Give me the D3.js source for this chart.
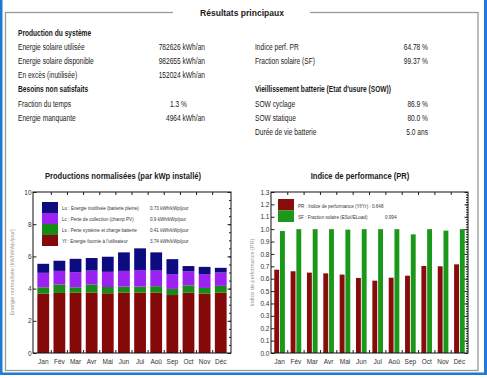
<!DOCTYPE html>
<html>
<head>
<meta charset="utf-8">
<script src="https://cdn.jsdelivr.net/npm/d3@7"></script>
<style>
  body { margin: 0; background: #fff; }
  svg { display: block; font-family: "Liberation Sans", Arial, sans-serif; }
</style>
</head>
<body>
<script>
// months and monthly values
var months = ["Jan", "Fév", "Mar", "Avr", "Mai", "Jun", "Jul", "Aoû", "Sep", "Oct", "Nov", "Déc"];
var yfValues = [3.69, 3.73, 3.75, 3.75, 3.71, 3.75, 3.75, 3.75, 3.60, 3.75, 3.69, 3.75];
var lsValues = [0.39, 0.52, 0.33, 0.50, 0.39, 0.37, 0.37, 0.40, 0.38, 0.45, 0.35, 0.42];
var lcValues = [0.90, 0.85, 0.94, 0.87, 0.94, 0.98, 1.03, 0.97, 0.92, 0.88, 0.86, 0.83];
var luValues = [0.56, 0.63, 0.83, 0.78, 0.94, 1.15, 1.35, 1.13, 0.93, 0.32, 0.45, 0.29];
var prValues = [0.673, 0.660, 0.649, 0.643, 0.633, 0.606, 0.584, 0.608, 0.624, 0.703, 0.700, 0.716];
var sfValues = [0.985, 1.0, 1.0, 1.0, 0.996, 1.0, 1.0, 1.0, 0.958, 1.0, 0.988, 1.0];

var prodTicks = [0, 2, 4, 6, 8, 10];
var perfTicks = d3.range(0, 14).map(function(i) { return i / 10; });

// text blocks
var leftRows = [
  {label: "Production du système", bold: true},
  {label: "Energie solaire utilisée", value: "782626 kWh/an"},
  {label: "Energie solaire disponible", value: "982655 kWh/an"},
  {label: "En excès (inutilisée)", value: "152024 kWh/an"},
  {label: "Besoins non satisfaits", bold: true},
  {label: "Fraction du temps", value: "1.3 %", short: true},
  {label: "Energie manquante", value: "4964 kWh/an"}
];
var rightRows = [
  null,
  {label: "Indice perf. PR", value: "64.78 %"},
  {label: "Fraction solaire (SF)", value: "99.37 %"},
  null,
  {label: "Vieillissement batterie (Etat d'usure (SOW))", bold: true},
  {label: "SOW cyclage", value: "86.9 %"},
  {label: "SOW statique", value: "80.0 %"},
  {label: "Durée de vie batterie", value: "5.0 ans"}
];
var prodLegend = [
  {key: "lu", label: "Lu : Energie inutilisée (batterie pleine)", value: "0.73 kWh/kWp/jour", color: "#0c0c80"},
  {key: "lc", label: "Lc : Perte de collection (champ PV)", value: "0.9 kWh/kWp/jour", color: "#9b22f0"},
  {key: "ls", label: "Ls : Perte système et charge batterie", value: "0.41 kWh/kWp/jour", color: "#168c16"},
  {key: "yf", label: "Yf : Energie fournie à l'utilisateur", value: "3.74 kWh/kWp/jour", color: "#840a0a"}
];
var perfLegend = [
  {key: "pr", label: "PR : Indice de performance (Yf/Yr) : 0.648", value: "", color: "#870c0c"},
  {key: "sf", label: "SF : Fraction solaire (ESol/ELoad)", value: "0.994", color: "#1a981a"}
];

var W = 487, H = 378;
var svg = d3.select("body").append("svg")
    .attr("width", W)
    .attr("height", H);

function label(parent, x, y, str, o) {
  o = o || {};
  return parent.append("text")
      .attr("transform", "translate(" + x + "," + y + ") scale(" + (o.sx || 0.79) + ",1)")
      .attr("text-anchor", o.anchor || "start")
      .attr("font-size", o.size || 8.4)
      .attr("font-weight", o.bold ? "bold" : null)
      .attr("fill", o.fill || "#1a1a1a")
      .text(str);
}

// outer blue frame
svg.append("rect").attr("x", 0).attr("y", 0).attr("width", 2.5).attr("height", 375).attr("fill", "#1f7ad6");
svg.append("rect").attr("x", 484).attr("y", 0).attr("width", 3).attr("height", 375).attr("fill", "#1f7ad6");
svg.append("rect").attr("x", 0).attr("y", 372.5).attr("width", 487).attr("height", 2.5).attr("fill", "#1f7ad6");

// grey group box
svg.append("rect")
    .attr("x", 5.5).attr("y", 12.5)
    .attr("width", 472.5).attr("height", 358)
    .attr("fill", "none")
    .attr("stroke", "#9a9a9a")
    .attr("stroke-width", 1.3);
svg.append("rect").attr("x", 173).attr("y", 8).attr("width", 137).attr("height", 10).attr("fill", "#fff");
label(svg, 242, 16, "Résultats principaux", {bold: true, size: 9.5, sx: 0.9, anchor: "middle"});

// summary rows
var rowY = function(i) { return 36 + i * 14.1; };
leftRows.forEach(function(r, i) {
  label(svg, 18, rowY(i), r.label, {bold: r.bold});
  if (r.value) label(svg, r.short ? 187 : 205, rowY(i), r.value, {anchor: "end"});
});
rightRows.forEach(function(r, i) {
  if (!r) return;
  label(svg, 255, rowY(i), r.label, {bold: r.bold});
  if (r.value) label(svg, 428, rowY(i), r.value, {anchor: "end"});
});

// common frame drawing for both plots
function frame(g, x, y, w, h, ticks, minor) {
  g.append("g")
      .attr("class", "y axis")
      .call(d3.axisLeft(y).tickValues(ticks).tickSize(-3.5).tickPadding(1.5)
        .tickFormat(ticks[1] < 1 ? d3.format(".1f") : d3.format("d")))
      .call(function(a) {
        a.select(".domain").remove();
        a.selectAll("line").attr("stroke", "#222");
        a.selectAll("text").attr("font-size", 6.5).attr("fill", "#333")
          .attr("font-family", "Liberation Sans, Arial, sans-serif");
      });
  g.append("g")
      .attr("transform", "translate(" + w + ",0)")
      .call(d3.axisRight(y).tickValues(minor).tickSize(-2).tickFormat(""))
      .call(function(a) { a.select(".domain").remove(); a.selectAll("line").attr("stroke", "#222"); });
  g.append("g")
      .attr("transform", "translate(" + w + ",0)")
      .call(d3.axisRight(y).tickValues(ticks).tickSize(-3.5).tickFormat(""))
      .call(function(a) { a.select(".domain").remove(); a.selectAll("line").attr("stroke", "#222"); });
  // month boundaries, top and bottom
  var bounds = months.slice(1).map(function(m) { return x(m) - x.step() * x.paddingInner() / 2; });
  g.selectAll(".btick").data(bounds).enter().append("line")
      .attr("x1", function(d) { return d; }).attr("x2", function(d) { return d; })
      .attr("y1", h).attr("y2", h - 3).attr("stroke", "#222");
  g.selectAll(".ttick").data(bounds).enter().append("line")
      .attr("x1", function(d) { return d; }).attr("x2", function(d) { return d; })
      .attr("y1", 0).attr("y2", 3).attr("stroke", "#222");
  g.append("g")
      .attr("transform", "translate(0," + h + ")")
      .call(d3.axisBottom(x).tickSize(0).tickPadding(6))
      .call(function(a) {
        a.select(".domain").remove();
        a.selectAll("text").attr("font-size", 6.5).attr("fill", "#333")
          .attr("font-family", "Liberation Sans, Arial, sans-serif");
      });
}

// ---------- Productions normalisées ----------
var p1 = {left: 33, top: 192, width: 198, height: 161};
label(svg, 123, 179, "Productions normalisées (par kWp installé)", {bold: true, size: 9.5, sx: 0.8, anchor: "middle"});
svg.append("text")
    .attr("transform", "translate(14," + (p1.top + p1.height / 2) + ") rotate(-90)")
    .attr("text-anchor", "middle")
    .attr("font-size", 5.5).attr("fill", "#999")
    .text("Energie normalisée [kWh/kWp/jour]");

var g1 = svg.append("g").attr("transform", "translate(" + p1.left + "," + p1.top + ")");
var x1 = d3.scaleBand().domain(months).range([0, p1.width]).padding(0.27);
var y1 = d3.scaleLinear().domain([0, 10]).range([p1.height, 0]);

var table = months.map(function(m, i) {
  return {month: m, yf: yfValues[i], ls: lsValues[i], lc: lcValues[i], lu: luValues[i]};
});
var keys = ["yf", "ls", "lc", "lu"];
var colorOf = {};
prodLegend.forEach(function(d) { colorOf[d.key] = d.color; });
var series = d3.stack().keys(keys)(table);

g1.selectAll(".serie")
    .data(series)
  .enter().append("g")
    .attr("fill", function(d) { return colorOf[d.key]; })
  .selectAll("rect")
    .data(function(d) { return d; })
  .enter().append("rect")
    .attr("x", function(d) { return x1(d.data.month); })
    .attr("y", function(d) { return y1(d[1]); })
    .attr("height", function(d) { return y1(d[0]) - y1(d[1]); })
    .attr("width", x1.bandwidth());

frame(g1, x1, y1, p1.width, p1.height, prodTicks, d3.range(0, 10.01, 0.5));

// legend
var leg1 = svg.append("g");
prodLegend.forEach(function(d, i) {
  leg1.append("rect").attr("x", 42).attr("y", 202 + i * 11).attr("width", 16).attr("height", 11).attr("fill", d.color);
  label(leg1, 62, 210 + i * 11, d.label, {size: 6.2, sx: 0.74, fill: "#333"});
  label(leg1, 150, 210 + i * 11, d.value, {size: 6.2, sx: 0.74, fill: "#333"});
});

g1.append("rect")
    .attr("width", p1.width).attr("height", p1.height)
    .attr("fill", "none").attr("stroke", "#111").attr("stroke-width", 1);

// ---------- Indice de performance ----------
var p2 = {left: 271, top: 192, width: 197, height: 161};
label(svg, 360, 179, "Indice de performance (PR)", {bold: true, size: 9.5, sx: 0.8, anchor: "middle"});
svg.append("text")
    .attr("transform", "translate(254," + (p2.top + p2.height / 2) + ") rotate(-90)")
    .attr("text-anchor", "middle")
    .attr("font-size", 5.5).attr("fill", "#999")
    .text("Indice de performance (PR)");

var g2 = svg.append("g").attr("transform", "translate(" + p2.left + "," + p2.top + ")");
var x2 = d3.scaleBand().domain(months).range([0, p2.width]).paddingInner(0.35).paddingOuter(0.2);
var xs = d3.scaleBand().domain(["pr", "sf"]).range([0, x2.bandwidth()]).paddingInner(0.15);
var y2 = d3.scaleLinear().domain([0, 1.3]).range([p2.height, 0]);

var perfTable = months.map(function(m, i) { return {month: m, pr: prValues[i], sf: sfValues[i]}; });
var perfColor = {pr: perfLegend[0].color, sf: perfLegend[1].color};

g2.selectAll(".grp")
    .data(perfTable)
  .enter().append("g")
    .attr("transform", function(d) { return "translate(" + x2(d.month) + ",0)"; })
  .selectAll("rect")
    .data(function(d) { return ["pr", "sf"].map(function(k) { return {key: k, value: d[k]}; }); })
  .enter().append("rect")
    .attr("x", function(d) { return xs(d.key); })
    .attr("y", function(d) { return y2(d.value); })
    .attr("width", xs.bandwidth())
    .attr("height", function(d) { return p2.height - y2(d.value); })
    .attr("fill", function(d) { return perfColor[d.key]; });

frame(g2, x2, y2, p2.width, p2.height, perfTicks, d3.range(0, 1.301, 0.02));

var leg2 = svg.append("g");
perfLegend.forEach(function(d, i) {
  leg2.append("rect").attr("x", 278).attr("y", 199 + i * 11.5).attr("width", 16).attr("height", 11.5).attr("fill", d.color);
  label(leg2, 298, 207.5 + i * 11.5, d.label, {size: 6.2, sx: 0.74, fill: "#333"});
  if (d.value) label(leg2, 385, 207.5 + i * 11.5, d.value, {size: 6.2, sx: 0.74, fill: "#333"});
});

g2.append("rect")
    .attr("width", p2.width).attr("height", p2.height)
    .attr("fill", "none").attr("stroke", "#111").attr("stroke-width", 1);
</script>
</body>
</html>
